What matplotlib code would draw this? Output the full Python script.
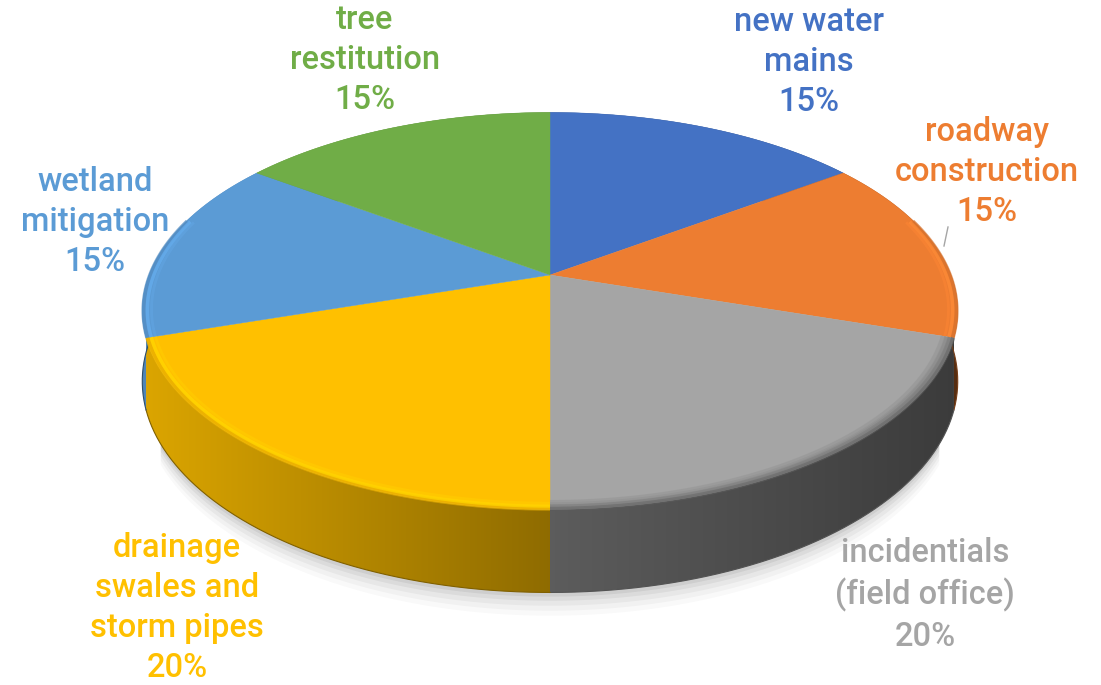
import numpy as np
import matplotlib
matplotlib.use("Agg")
import matplotlib.pyplot as plt
from matplotlib.patches import Polygon
from matplotlib.colors import to_rgb

# ---- data ----
categories = ["new water\nmains", "roadway\nconstruction", "incidentials\n(field office)",
              "drainage\nswales and\nstorm pipes", "wetland\nmitigation", "tree\nrestitution"]
values = [15, 15, 20, 20, 15, 15]
colors = ["#4472C4", "#ED7D31", "#A5A5A5", "#FFC000", "#5B9BD5", "#70AD47"]

# ---- figure ----
W, H = 1101, 685
fig = plt.figure(figsize=(W / 100, H / 100), dpi=100)
ax = fig.add_axes([0, 0, 1, 1])
ax.set_xlim(0, W)
ax.set_ylim(H, 0)
ax.axis("off")

# perspective pie geometry
cx, cy = 550, 275
A, B, k = 401, 192, 0.181
T = 68


def proj(theta, depth=0.0, r=1.0):
    X = r * np.sin(theta)
    Z = r * np.cos(theta)
    d = 1 + k * Z
    return cx + A * X / d, cy - B * Z / d + T * depth / d


def shade(c, f):
    r, g, b = to_rgb(c)
    return (min(r * f, 1), min(g * f, 1), min(b * f, 1))


total = float(sum(values))
bounds = np.concatenate([[0], np.cumsum(values)]) / total * 2 * np.pi

# soft shadow under the front of the pie
th = np.linspace(np.pi * 0.65, np.pi * 1.35, 200)
for dd, a in [(1.28, 0.025), (1.22, 0.03), (1.16, 0.04), (1.10, 0.05), (1.05, 0.06)]:
    xs, ys = proj(th, depth=dd)
    xt, yt = proj(th[::-1], depth=0.5)
    ax.add_patch(Polygon(np.column_stack([np.r_[xs, xt], np.r_[ys, yt]]),
                         closed=True, fc=(0, 0, 0, a), ec="none", zorder=1))

# sides with horizontal gradient (clipped image)
xgrid = np.arange(0, W)
sgrid = np.clip((xgrid - cx) / 405.0, -1, 1)
fgrid = np.where(sgrid < 0, 0.56 - 0.30 * sgrid, 0.56 - 0.20 * sgrid)
for i, v in enumerate(values):
    t0, t1 = bounds[i], bounds[i + 1]
    ts = np.linspace(t0, t1, 150)
    xt, yt = proj(ts)
    xb, yb = proj(ts[::-1], 1)
    poly = Polygon(np.column_stack([np.r_[xt, xb], np.r_[yt, yb]]), closed=True,
                   fc="none", ec="none", transform=ax.transData)
    ax.add_patch(poly)
    rgb = np.array(to_rgb(colors[i]))
    img = np.clip(fgrid[None, :, None] * rgb[None, None, :], 0, 1)
    im = ax.imshow(img, extent=(0, W, H, 0), aspect="auto", interpolation="bilinear",
                   zorder=2)
    im.set_clip_path(poly)
    ax.plot(xb, yb, color=shade(colors[i], 0.5), lw=0.8, zorder=2.1)

# top faces
for i, v in enumerate(values):
    t0, t1 = bounds[i], bounds[i + 1]
    ts = np.linspace(t0, t1, 150)
    xs, ys = proj(ts)
    ax.add_patch(Polygon(np.column_stack([np.r_[cx, xs], np.r_[cy, ys]]), closed=True,
                         fc=colors[i], ec=colors[i], lw=0.3, zorder=3))
    tsf = ts[np.cos(ts) < 0.3]
    if len(tsf) > 1:
        if colors[i] == "#A5A5A5":
            rims = [(0.998, 0.55, 3), (0.99, 0.7, 3), (0.982, 0.82, 3), (0.974, 0.92, 3)]
        else:
            rims = [(0.997, 0.9, 3), (0.988, 1.12, 2.5), (0.978, 1.05, 2)]
        for rr, f, lw in rims:
            xr, yr = proj(tsf, r=rr)
            ax.plot(xr, yr, color=shade(colors[i], f), lw=lw, alpha=0.7,
                    solid_capstyle="butt", zorder=4)
ax.set_xlim(0, W)
ax.set_ylim(H, 0)

# labels
font = "Roboto"
fs = 23.5
lab_pos = [(809, 62), (987, 172), (925, 595), (177, 608), (95, 222), (365, 60)]
for i, (lab, v) in enumerate(zip(categories, values)):
    x, y = lab_pos[i]
    ax.text(x, y, f"{lab}\n{v}%", ha="center", va="center", color=colors[i],
            fontsize=fs, family=font, fontweight="medium", linespacing=1.33, zorder=6)

# leader line for roadway construction
ax.plot([948, 944], [227, 246], color="#A5A5A5", lw=1, zorder=5)

fig.savefig("out.png", dpi=100)
